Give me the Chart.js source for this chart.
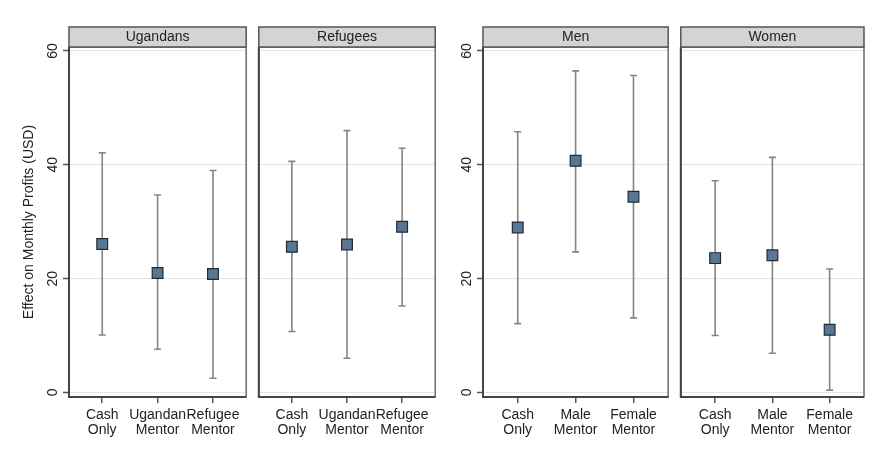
<!DOCTYPE html>
<html>
<head>
<meta charset="utf-8">
<script src="https://cdn.jsdelivr.net/npm/chart.js@4"></script>
<style>
  body { margin: 0; background: #fff; }
  #wrap { position: relative; width: 891px; height: 463px; background: #fff; }
  canvas { position: absolute; top: 0; }
</style>
</head>
<body>
<div id="wrap">
  <canvas id="c1" width="255" height="463" style="left:0px"></canvas>
  <canvas id="c2" width="194" height="463" style="left:250px"></canvas>
  <canvas id="c3" width="237" height="463" style="left:440px"></canvas>
  <canvas id="c4" width="219" height="463" style="left:672px"></canvas>
</div>
<script>
// categories
const originCats = [['Cash', 'Only'], ['Ugandan', 'Mentor'], ['Refugee', 'Mentor']];
const genderCats = [['Cash', 'Only'], ['Male', 'Mentor'], ['Female', 'Mentor']];
const yTicks = [0, 20, 40, 60];

// point estimates and 95% CI bounds
const ugEst = [26.1, 21.0, 20.8];
const ugLo = [10.1, 7.6, 2.5];
const ugHi = [42.1, 34.7, 39.0];

const refEst = [25.6, 26.0, 29.1];
const refLo = [10.7, 6.0, 15.2];
const refHi = [40.6, 46.0, 42.9];

const menEst = [29.0, 40.7, 34.4];
const menLo = [12.1, 24.7, 13.1];
const menHi = [45.8, 56.5, 55.7];

const womEst = [23.6, 24.1, 11.0];
const womLo = [10.0, 6.9, 0.4];
const womHi = [37.2, 41.3, 21.7];

const FONT = 'Liberation Sans, Arial, sans-serif';
const TXT = '#222';

// strip header, frame, error bars
const panelPlugin = {
  id: 'panel',
  beforeDatasetsDraw(chart, args, opts) {
    const ctx = chart.ctx, a = chart.chartArea;
    const xs = chart.scales.x, ys = chart.scales.y;
    ctx.save();
    // frame
    ctx.strokeStyle = '#6a6a6a';
    ctx.lineWidth = 1.5;
    ctx.strokeRect(a.left, a.top, a.right - a.left, a.bottom - a.top);
    ctx.strokeStyle = '#444';
    ctx.lineWidth = 2;
    ctx.beginPath();
    ctx.moveTo(a.left, a.top);
    ctx.lineTo(a.left, a.bottom);
    ctx.lineTo(a.right, a.bottom);
    ctx.stroke();
    // strip
    ctx.fillStyle = '#d4d4d4';
    ctx.fillRect(a.left, a.top - 20, a.right - a.left, 20);
    ctx.strokeStyle = '#555';
    ctx.lineWidth = 1.5;
    ctx.strokeRect(a.left, a.top - 20, a.right - a.left, 20);
    ctx.fillStyle = TXT;
    ctx.font = '14px ' + FONT;
    ctx.textAlign = 'center';
    ctx.textBaseline = 'middle';
    ctx.fillText(opts.title, (a.left + a.right) / 2, a.top - 10);
    // error bars
    const ds = chart.data.datasets[0];
    ctx.strokeStyle = '#858585';
    ctx.lineWidth = 1.6;
    ds.lo.forEach((lo, i) => {
      const x = xs.getPixelForValue(i + 1);
      const y1 = ys.getPixelForValue(lo), y2 = ys.getPixelForValue(ds.hi[i]);
      ctx.beginPath();
      ctx.moveTo(x, y1); ctx.lineTo(x, y2);
      ctx.moveTo(x - 3.5, y1); ctx.lineTo(x + 3.5, y1);
      ctx.moveTo(x - 3.5, y2); ctx.lineTo(x + 3.5, y2);
      ctx.stroke();
    });
    // rotated y tick labels
    if (opts.showY) {
      ctx.fillStyle = TXT;
      ctx.font = '14px ' + FONT;
      yTicks.forEach(v => {
        ctx.save();
        ctx.translate(ys.right - 16, ys.getPixelForValue(v));
        ctx.rotate(-Math.PI / 2);
        ctx.textAlign = 'center';
        ctx.textBaseline = 'middle';
        ctx.fillText(String(v), 0, 0);
        ctx.restore();
      });
    }
    ctx.restore();
  }
};

function makePanel(id, title, cats, est, lo, hi, p) {
  return new Chart(document.getElementById(id), {
    type: 'scatter',
    data: {
      datasets: [{
        data: est.map((v, i) => ({ x: i + 1, y: v })),
        lo: lo,
        hi: hi,
        pointStyle: 'rect',
        pointRadius: 7.6,
        pointBackgroundColor: '#5b7691',
        pointBorderColor: '#1e2c3a',
        pointBorderWidth: 1.2,
      }],
    },
    options: {
      responsive: false,
      animation: false,
      devicePixelRatio: 1,
      layout: { padding: { top: 47, bottom: 6, left: p.left, right: p.right } },
      plugins: {
        legend: { display: false },
        tooltip: { enabled: false },
        panel: { title: title, showY: p.showY },
      },
      scales: {
        x: {
          type: 'linear',
          min: 0.4,
          max: 3.6,
          afterBuildTicks: s => { s.ticks = [1, 2, 3].map(v => ({ value: v })); },
          afterFit: s => { s.height = 60; },
          ticks: {
            callback: v => cats[v - 1],
            font: { size: 14, family: FONT, lineHeight: 1.1 },
            color: TXT,
            padding: 4,
            maxRotation: 0,
            autoSkip: false,
          },
          grid: { drawOnChartArea: false, drawTicks: true, tickLength: 6, tickColor: '#555', lineWidth: 1.5 },
          border: { display: false },
        },
        y: {
          min: -0.8,
          max: 60.7,
          afterBuildTicks: s => { s.ticks = yTicks.map(v => ({ value: v })); },
          afterFit: s => { s.width = p.yWidth; },
          ticks: { display: false },
          grid: { color: '#e3e3e3', lineWidth: 1, drawTicks: p.showY, tickLength: 6, tickColor: '#555', tickWidth: 1.5 },
          border: { display: false },
          title: {
            display: p.yTitle,
            text: 'Effect on Monthly Profits (USD)',
            font: { size: 14, family: FONT },
            color: TXT,
            padding: { top: 21, bottom: 0 },
          },
        },
      },
    },
    plugins: [panelPlugin],
  });
}

makePanel('c1', 'Ugandans', originCats, ugEst, ugLo, ugHi, { left: 0, right: 0, yWidth: 69, showY: true, yTitle: true });
makePanel('c2', 'Refugees', originCats, refEst, refLo, refHi, { left: 8, right: 0, yWidth: 0, showY: false, yTitle: false });
makePanel('c3', 'Men', genderCats, menEst, menLo, menHi, { left: 0, right: 0, yWidth: 43, showY: true, yTitle: false });
makePanel('c4', 'Women', genderCats, womEst, womLo, womHi, { left: 7, right: 27, yWidth: 0, showY: false, yTitle: false });
</script>
</body>
</html>
